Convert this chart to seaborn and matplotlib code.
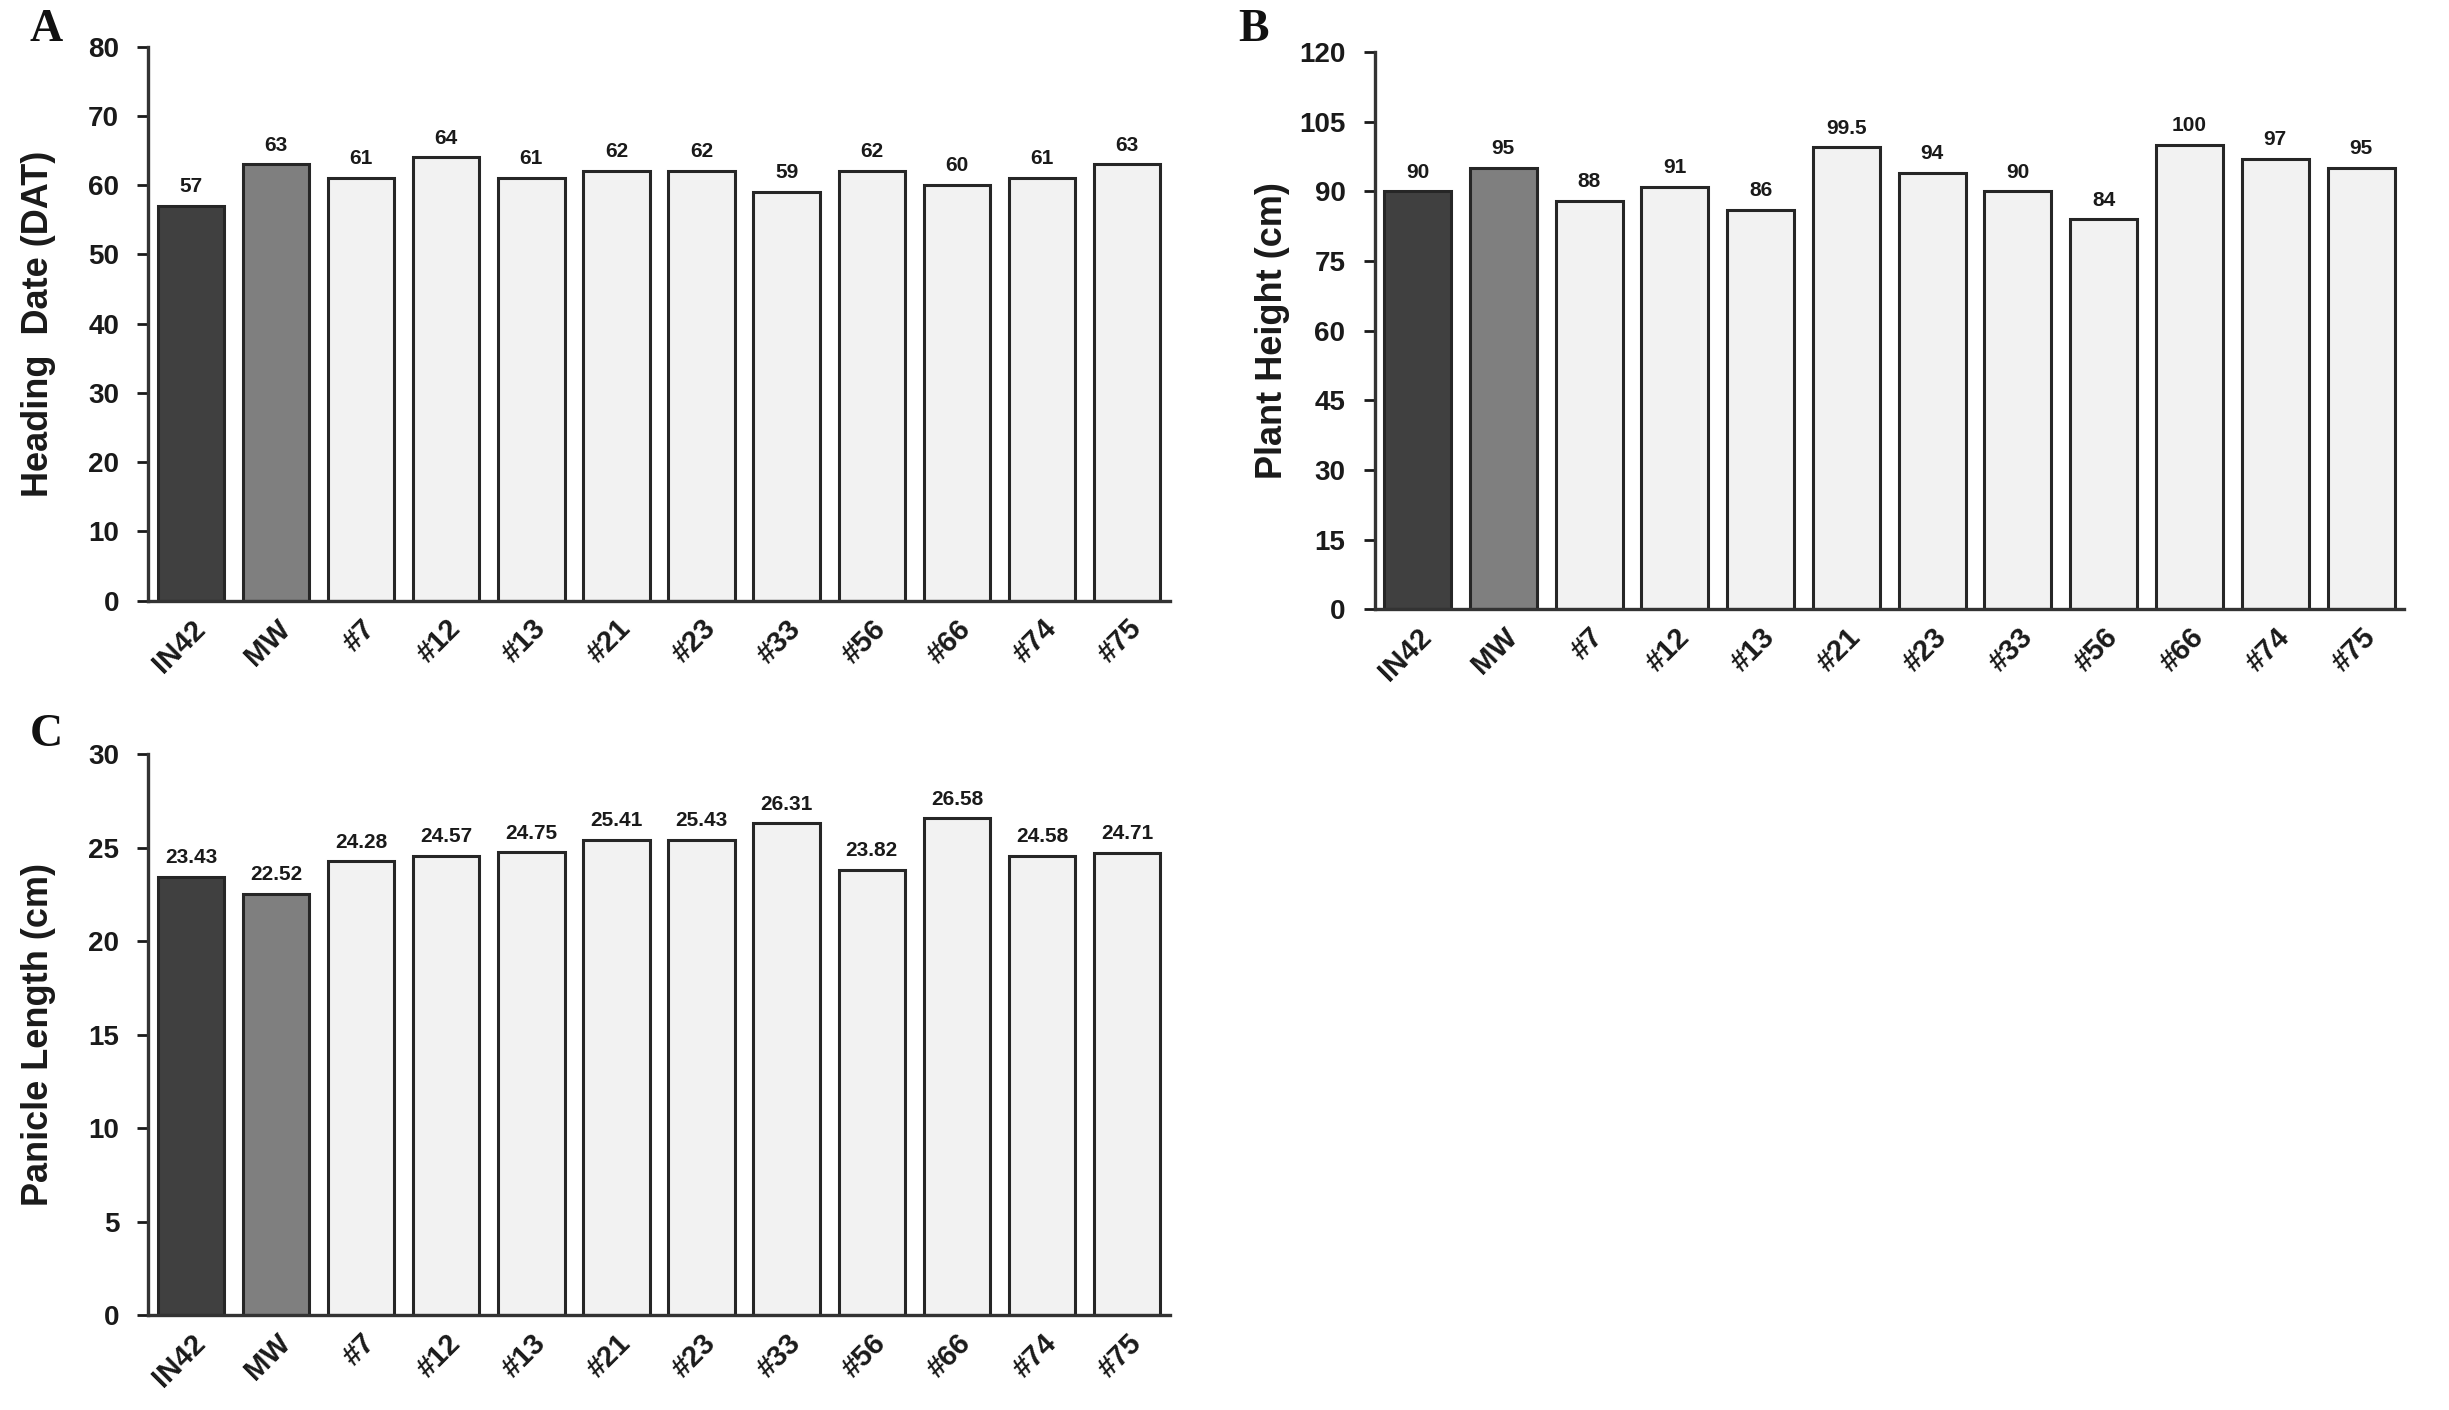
import seaborn as sns
import matplotlib.pyplot as plt
import pandas as pd

# Lines shown on every panel
lines = ['IN42', 'MW', '#7', '#12', '#13', '#21', '#23', '#33', '#56', '#66', '#74', '#75']

# Values
heading_date = [57, 63, 61, 64, 61, 62, 62, 59, 62, 60, 61, 63]
plant_height = [90, 95, 88, 91, 86, 99.5, 94, 90, 84, 100, 97, 95]
panicle_length = [23.43, 22.52, 24.28, 24.57, 24.75, 25.41, 25.43, 26.31, 23.82, 26.58, 24.58, 24.71]

# Bar colours: two parents, then the lines
bar_colors = ['#404040', '#7f7f7f'] + ['#f2f2f2'] * 10

sns.set_theme(style='ticks')
plt.rcParams['font.family'] = ['Liberation Sans', 'DejaVu Sans']
plt.rcParams['font.weight'] = 'bold'

fig = plt.figure(figsize=(24.49, 14.10), dpi=100)

# axes rectangles [left, bottom, width, height] in figure fraction
ax_a = fig.add_axes([0.0606, 0.574, 0.417, 0.393])
ax_b = fig.add_axes([0.5613, 0.568, 0.4203, 0.395])
ax_c = fig.add_axes([0.0606, 0.0674, 0.417, 0.3976])


def draw_panel(ax, values, ymax, ystep, ylabel, fmt, label_x):
    df = pd.DataFrame({'line': lines, 'value': values})
    sns.barplot(data=df, x='line', y='value', hue='line', palette=bar_colors,
                order=lines, hue_order=lines, legend=False, width=0.78,
                edgecolor='#262626', linewidth=2.2, ax=ax)
    for cont in ax.containers:
        ax.bar_label(cont, fmt=fmt, padding=7, fontsize=15, fontweight='bold',
                     color='#1a1a1a')
    ax.set_xlim(-0.5, len(lines) - 0.5)
    ax.set_ylim(0, ymax)
    ax.set_yticks(range(0, ymax + 1, ystep))
    ax.set_xlabel('')
    ax.set_ylabel(ylabel, fontsize=26, fontweight='bold', color='#1a1a1a')
    ax.yaxis.set_label_coords(label_x, 0.5)
    ax.tick_params(axis='y', direction='out', length=8, width=2, pad=13,
                   labelsize=20, colors='#1a1a1a')
    ax.tick_params(axis='x', length=0, pad=10, labelsize=21, colors='#1a1a1a')
    for lab in ax.get_xticklabels():
        lab.set_rotation(45)
        lab.set_ha('right')
        lab.set_rotation_mode('anchor')
        lab.set_fontweight('bold')
    for lab in ax.get_yticklabels():
        lab.set_fontweight('bold')
    sns.despine(ax=ax)
    for side in ['left', 'bottom']:
        ax.spines[side].set_linewidth(2.4)
        ax.spines[side].set_color('#333333')


draw_panel(ax_a, heading_date, 80, 10, 'Heading  Date (DAT)', '{:g}', -0.09)
draw_panel(ax_b, plant_height, 120, 15, 'Plant Height (cm)', '{:g}', -0.082)
draw_panel(ax_c, panicle_length, 30, 5, 'Panicle Length (cm)', '{:.2f}', -0.09)

# panel letters
for letter, x, y in [('A', 0.019, 0.979), ('B', 0.512, 0.979), ('C', 0.019, 0.479)]:
    fig.text(x, y, letter, fontsize=33, fontweight='bold', ha='center', va='center',
             family=['Liberation Serif', 'DejaVu Serif'], color='#111111')

fig.savefig('out.png', dpi=100)
